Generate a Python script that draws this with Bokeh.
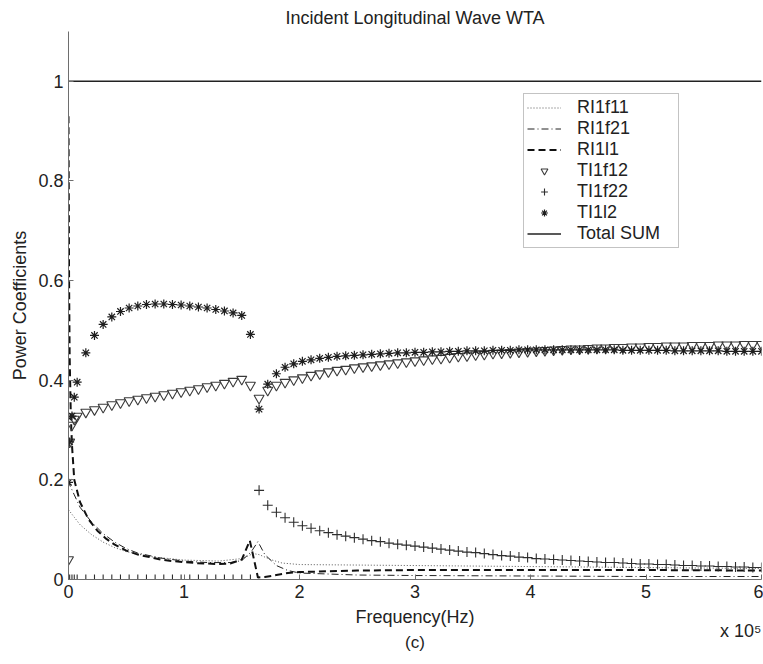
from bokeh.plotting import figure
from bokeh.models import (Range1d, FixedTicker, CustomJSTickFormatter, Legend,
                          LegendItem, Title)
from bokeh.embed import file_html
from bokeh.resources import INLINE

# ---------------- data (frequency in kHz) ----------------
FREQ_KHZ = [0, 1, 3, 5,
            7.5, 15, 22.5, 30, 37.5, 45, 52.5, 60, 67.5, 75, 82.5, 90, 97.5, 105,
            112.5, 120, 127.5, 135, 142.5, 150, 157.5, 165, 172.5, 180, 187.5, 195,
            202.5, 210, 217.5, 225, 232.5, 240, 247.5, 255, 262.5, 270, 277.5, 285,
            292.5, 300, 307.5, 315, 322.5, 330, 337.5, 345, 352.5, 360, 367.5, 375,
            382.5, 390, 397.5, 405, 412.5, 420, 427.5, 435, 442.5, 450, 457.5, 465,
            472.5, 480, 487.5, 495, 502.5, 510, 517.5, 525, 532.5, 540, 547.5, 555,
            562.5, 570, 577.5, 585, 592.5, 600]

TI1f12 = [0.04, 0.276, 0.31, 0.322,
          0.328, 0.336, 0.341, 0.346, 0.351, 0.355, 0.359, 0.362, 0.365, 0.368,
          0.371, 0.374, 0.377, 0.38, 0.383, 0.387, 0.39, 0.394, 0.398, 0.402,
          0.39, 0.364, 0.38, 0.39, 0.396, 0.401, 0.405, 0.41, 0.413, 0.417,
          0.42, 0.422, 0.425, 0.427, 0.429, 0.431, 0.433, 0.435, 0.437, 0.439,
          0.441, 0.443, 0.444, 0.446, 0.448, 0.449, 0.451, 0.452, 0.454, 0.455,
          0.456, 0.457, 0.458, 0.459, 0.46, 0.461, 0.462, 0.463, 0.463, 0.464,
          0.465, 0.465, 0.466, 0.466, 0.467, 0.467, 0.468, 0.468, 0.469, 0.469,
          0.469, 0.47, 0.47, 0.47, 0.471, 0.471, 0.471, 0.472, 0.472, 0.472]

TI1l2 = [0.195, 0.276, 0.328, 0.366,
         0.396, 0.455, 0.49, 0.512, 0.527, 0.538, 0.545, 0.549, 0.552, 0.553,
         0.553, 0.552, 0.551, 0.549, 0.547, 0.545, 0.542, 0.539, 0.535, 0.53,
         0.492, 0.342, 0.392, 0.413, 0.426, 0.433, 0.438, 0.441, 0.444, 0.446,
         0.448, 0.449, 0.45, 0.451, 0.452, 0.453, 0.454, 0.455, 0.455, 0.456,
         0.456, 0.457, 0.457, 0.458, 0.458, 0.459, 0.459, 0.459, 0.46, 0.46,
         0.46, 0.461, 0.461, 0.461, 0.461, 0.461, 0.461, 0.461, 0.461, 0.461,
         0.461, 0.461, 0.461, 0.46, 0.46, 0.46, 0.46, 0.46, 0.46, 0.459,
         0.459, 0.459, 0.459, 0.459, 0.459, 0.458, 0.458, 0.458, 0.458, 0.458]

TI1f22 = [0, 0, 0, 0,
          0, 0, 0, 0, 0, 0, 0, 0, 0, 0,
          0, 0, 0, 0, 0, 0, 0, 0, 0, 0,
          0, 0.179, 0.149, 0.135, 0.124, 0.115, 0.108, 0.103, 0.098, 0.094,
          0.09, 0.087, 0.084, 0.081, 0.078, 0.076, 0.073, 0.071, 0.069, 0.067,
          0.065, 0.063, 0.061, 0.059, 0.057, 0.055, 0.054, 0.052, 0.05, 0.048,
          0.047, 0.045, 0.044, 0.042, 0.041, 0.04, 0.039, 0.038, 0.037, 0.036,
          0.035, 0.034, 0.034, 0.033, 0.032, 0.031, 0.031, 0.03, 0.03, 0.029,
          0.028, 0.028, 0.027, 0.027, 0.026, 0.026, 0.025, 0.025, 0.024, 0.024]

RI1L1_KHZ = [0, 0.5, 1, 2, 3, 5, 10, 17.5, 25, 32.5, 40, 50, 60, 70, 80, 90, 100,
             110, 120, 130, 140, 150, 157, 164, 170, 180, 190, 200, 250, 300,
             400, 500, 600]
RI1l1 = [0.93, 0.6, 0.45, 0.33, 0.27, 0.2, 0.155, 0.12, 0.098, 0.082, 0.07, 0.058,
         0.05, 0.045, 0.04, 0.037, 0.035, 0.033, 0.032, 0.031, 0.032, 0.04, 0.078,
         0.004, 0.005, 0.009, 0.013, 0.015, 0.018, 0.019, 0.019, 0.019, 0.018]

RI1F21_KHZ = [0, 1, 3, 5, 10, 20, 30, 40, 50, 60, 80, 100, 120, 140, 150, 158,
              164, 170, 180, 190, 200, 250, 300, 400, 500, 600]
RI1f21 = [0.2, 0.19, 0.18, 0.17, 0.145, 0.115, 0.092, 0.075, 0.062, 0.053, 0.043,
          0.037, 0.034, 0.034, 0.038, 0.055, 0.076, 0.05, 0.028, 0.018, 0.013,
          0.009, 0.008, 0.007, 0.006, 0.006]

RI1F11_KHZ = [0, 5, 10, 20, 30, 40, 50, 70, 100, 130, 150, 160, 165, 175, 185,
              200, 300, 400, 500, 600]
RI1f11 = [0.14, 0.125, 0.11, 0.09, 0.075, 0.064, 0.056, 0.046, 0.039, 0.037,
          0.042, 0.052, 0.05, 0.04, 0.033, 0.03, 0.028, 0.026, 0.024, 0.022]

TOTAL_KHZ = [0, 600]
TOTAL = [1.0, 1.0]

XTICKS = [0, 1, 2, 3, 4, 5, 6]
YTICKS = [0, 0.2, 0.4, 0.6, 0.8, 1.0]

# -------------------------------------------------------------------------------
FONT = "Liberation Sans"
TXT = "#222222"


def x5(khz):
    # kHz -> units of 1e5 Hz
    return [k / 100.0 for k in khz]


p = figure(width=763, height=664, output_backend="svg", toolbar_location=None,
           x_range=Range1d(0, 6), y_range=Range1d(0, 1.1),
           min_border_left=68, min_border_right=2, min_border_top=31,
           min_border_bottom=85)
p.outline_line_color = None
p.grid.visible = False
p.background_fill_color = "white"
p.border_fill_color = "white"

p.title.text = "Incident Longitudinal Wave WTA"
p.title.align = "center"
p.title.text_font = FONT
p.title.text_font_size = "18px"
p.title.text_font_style = "normal"
p.title.text_color = TXT
p.title.standoff = 8

for ax, ticks in ((p.xaxis[0], XTICKS), (p.yaxis[0], YTICKS)):
    ax.ticker = FixedTicker(ticks=ticks)
    ax.formatter = CustomJSTickFormatter(code="return String(Math.round(tick*10)/10)")
    ax.major_tick_in = 5
    ax.major_tick_out = 0
    ax.minor_tick_line_color = None
    ax.axis_line_color = "#6e6e6e"
    ax.major_tick_line_color = "#6e6e6e"
    ax.major_label_text_font = FONT
    ax.major_label_text_font_size = "18px"
    ax.major_label_text_color = TXT
    ax.major_label_standoff = 5
    ax.axis_label_text_font = FONT
    ax.axis_label_text_font_size = "18px"
    ax.axis_label_text_font_style = "normal"
    ax.axis_label_text_color = TXT

p.xaxis.axis_label = "Frequency(Hz)"
p.xaxis.axis_label_standoff = 6
p.yaxis.axis_label = "Power Coefficients"
p.yaxis.axis_label_standoff = 5

r_total = p.line(x5(TOTAL_KHZ), TOTAL, line_color="#222222", line_width=1.5)
r_f11 = p.line(x5(RI1F11_KHZ), RI1f11, line_color="#555555", line_width=1,
               line_dash="1 2")
r_f21 = p.line(x5(RI1F21_KHZ), RI1f21, line_color="#222222", line_width=1,
               line_dash="7 3 1 3")
r_l1 = p.line(x5(RI1L1_KHZ), RI1l1, line_color="#111111", line_width=2,
              line_dash="7 4")
xg = x5(FREQ_KHZ)
r_tf12 = p.scatter(xg, TI1f12, marker="inverted_triangle", size=10,
                   line_color="#3a3a3a", fill_color=None, line_width=1.1)
r_tf22 = p.scatter(xg, TI1f22, marker="cross", size=10, line_color="#2e2e2e",
                   line_width=1.1)
r_tl2 = p.scatter(xg, TI1l2, marker="asterisk", size=9, line_color="#1e1e1e",
                  line_width=1.2)

legend = Legend(items=[
    LegendItem(label="RI1f11", renderers=[r_f11]),
    LegendItem(label="RI1f21", renderers=[r_f21]),
    LegendItem(label="RI1l1", renderers=[r_l1]),
    LegendItem(label="TI1f12", renderers=[r_tf12]),
    LegendItem(label="TI1f22", renderers=[r_tf22]),
    LegendItem(label="TI1l2", renderers=[r_tl2]),
    LegendItem(label="Total SUM", renderers=[r_total]),
], location=(455, 331))
legend.label_text_font = FONT
legend.label_text_font_size = "18px"
legend.label_text_color = TXT
legend.glyph_height = 17
legend.label_height = 17
legend.glyph_width = 34
legend.label_width = 98
legend.spacing = 0
legend.padding = 3
legend.margin = 0
legend.label_standoff = 16
legend.border_line_color = "#888888"
legend.border_line_width = 1
legend.background_fill_color = "white"
legend.background_fill_alpha = 1.0
p.add_layout(legend)

p.add_layout(Title(text="x 10\u2075", align="right", text_font=FONT,
                   text_font_size="18px", text_font_style="normal",
                   text_color=TXT, standoff=-22), "below")
p.add_layout(Title(text="(c)", align="center", offset=-25, text_font=FONT,
                   text_font_size="17px", text_font_style="normal",
                   text_color=TXT, standoff=2), "below")

open("out.html", "w").write(file_html(p, INLINE))
